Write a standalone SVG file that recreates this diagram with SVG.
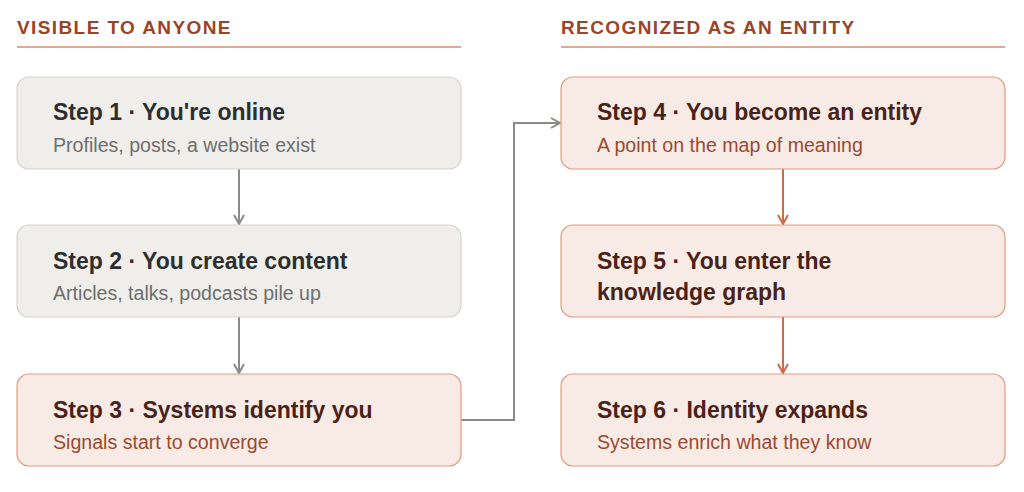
<svg xmlns="http://www.w3.org/2000/svg" width="1024" height="492" viewBox="0 0 1024 492">
<defs>
<style>
.hdr{font-family:"Liberation Sans",Arial,sans-serif;font-weight:bold;font-size:19px;letter-spacing:1.4px;fill:#9a4428}
.rule{stroke:#e8a890;stroke-width:2}
.gbox{fill:#efeeea;stroke:#d6d4ce;stroke-width:1.2}
.pbox{fill:#f8ebe6;stroke:#e39a80;stroke-width:1.2}
.t{font-family:"Liberation Sans",Arial,sans-serif;font-weight:bold;font-size:23px}
.s{font-family:"Liberation Sans",Arial,sans-serif;font-size:19.6px}
.gt{fill:#2e2e2e}.gs{fill:#6e6e6e}
.pt{fill:#4a2218}.ps{fill:#9a4a30}
.cg{fill:none;stroke:#8a8a86;stroke-width:2}
.cp{fill:none;stroke:#d26a4a;stroke-width:2}
</style>
<marker id="ag" viewBox="0 0 12 12" refX="11" refY="6" markerWidth="12" markerHeight="12" markerUnits="userSpaceOnUse" orient="auto"><path d="M2,1 L11,6 L2,11" fill="none" stroke="#8a8a86" stroke-width="2"/></marker>
<marker id="ap" viewBox="0 0 12 12" refX="11" refY="6" markerWidth="12" markerHeight="12" markerUnits="userSpaceOnUse" orient="auto"><path d="M2,1 L11,6 L2,11" fill="none" stroke="#d26a4a" stroke-width="2"/></marker>
</defs>
<rect width="1024" height="492" fill="#ffffff"/>
<g id="header-left">
<text class="hdr" x="17" y="34">VISIBLE TO ANYONE</text>
<line class="rule" x1="17" y1="47" x2="461" y2="47"/>
</g>
<g id="header-right">
<text class="hdr" x="561" y="34">RECOGNIZED AS AN ENTITY</text>
<line class="rule" x1="561" y1="47" x2="1005" y2="47"/>
</g>
<g id="connectors">
<line class="cg" x1="239" y1="169" x2="239" y2="224" marker-end="url(#ag)"/>
<line class="cg" x1="239" y1="317" x2="239" y2="373" marker-end="url(#ag)"/>
<polyline class="cg" points="461,420 514,420 514,123 560,123" marker-end="url(#ag)"/>
<line class="cp" x1="783" y1="169" x2="783" y2="224" marker-end="url(#ap)"/>
<line class="cp" x1="783" y1="317" x2="783" y2="373" marker-end="url(#ap)"/>
</g>
<g id="step1">
<rect class="gbox" x="17" y="77" width="444" height="92" rx="12"/>
<text class="t gt" x="53" y="120">Step 1 · You're online</text>
<text class="s gs" x="53" y="152">Profiles, posts, a website exist</text>
</g>
<g id="step2">
<rect class="gbox" x="17" y="225" width="444" height="92" rx="12"/>
<text class="t gt" x="53" y="269">Step 2 · You create content</text>
<text class="s gs" x="53" y="300">Articles, talks, podcasts pile up</text>
</g>
<g id="step3">
<rect class="pbox" x="17" y="374" width="444" height="92" rx="12"/>
<text class="t pt" x="53" y="418">Step 3 · Systems identify you</text>
<text class="s ps" x="53" y="449">Signals start to converge</text>
</g>
<g id="step4">
<rect class="pbox" x="561" y="77" width="444" height="92" rx="12"/>
<text class="t pt" x="597" y="120">Step 4 · You become an entity</text>
<text class="s ps" x="597" y="152">A point on the map of meaning</text>
</g>
<g id="step5">
<rect class="pbox" x="561" y="225" width="444" height="92" rx="12"/>
<text class="t pt" x="597" y="269">Step 5 · You enter the</text>
<text class="t pt" x="597" y="300">knowledge graph</text>
</g>
<g id="step6">
<rect class="pbox" x="561" y="374" width="444" height="92" rx="12"/>
<text class="t pt" x="597" y="418">Step 6 · Identity expands</text>
<text class="s ps" x="597" y="449">Systems enrich what they know</text>
</g>
</svg>
